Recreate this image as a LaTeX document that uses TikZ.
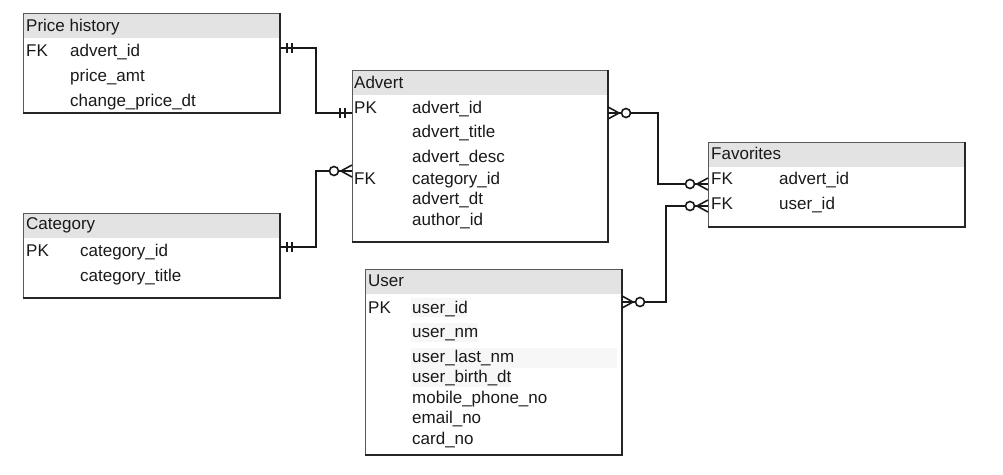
\documentclass[tikz,border=0pt]{standalone}
\usepackage{fontspec}
\setmainfont{Liberation Sans}
\begin{document}
\begin{tikzpicture}[x=1pt,y=-1pt,
    tbl/.style={draw=black!65,line width=0.8pt,inner sep=0pt,outer sep=0pt,anchor=north west},
    hdr/.style={fill=gray!22,inner sep=0pt,outer sep=0pt,anchor=north west,minimum height=25pt},
    txt/.style={font=\fontsize{17}{20}\selectfont,inner sep=0pt,anchor=base west,text=black!90},
    rel/.style={draw=black!90,line width=1.6pt},
    shade/.style={draw=black!85,line width=1.4pt},
    hl/.style={fill=gray!6},
    mandone/.pic={\draw[rel] (7,-5) -- (7,5) (12,-5) -- (12,5);},
    zeromany/.pic={\draw[rel] (0,-6) -- (11,0) -- (0,6);
                   \draw[rel,fill=white] (18,0) circle[radius=4.5pt];},
  ]
    \useasboundingbox (0,0) rectangle (1003,474);

    % Price history
    \node[hdr,minimum width=257pt] (ph-h) at (23,13) {};
    \node[tbl,minimum width=257pt,minimum height=100pt] (ph) at (23,13) {};
    \draw[shade] (ph.north east) -- (ph.south east) -- (ph.south west);
    \node[txt] (ph-t) at (26,31.7) {Price history};
    \node[txt] (ph-k) at (26,56.7) {FK};
    \foreach \t [count=\i] in {advert\_id,price\_amt,change\_price\_dt}
      \node[txt] (ph-\i) at (70,{31.7+25*\i}) {\t};

    % Advert
    \node[hdr,minimum width=256pt] (adv-h) at (352,70) {};
    \node[tbl,minimum width=256pt,minimum height=172pt] (adv) at (352,70) {};
    \draw[shade] (adv.north east) -- (adv.south east) -- (adv.south west);
    \node[txt] (adv-t) at (354,88.3) {Advert};
    \node[txt] (adv-pk) at (354,113.3) {PK};
    \node[txt] (adv-fk) at (354,184) {FK};
    \foreach \y/\t [count=\i] in {113.3/advert\_id,137.7/advert\_title,
        162.7/advert\_desc,184/category\_id,204/advert\_dt,225/author\_id}
      \node[txt] (adv-\i) at (412,\y) {\t};

    % Favorites
    \node[hdr,minimum width=257pt] (fav-h) at (708,142) {};
    \node[tbl,minimum width=257pt,minimum height=85pt] (fav) at (708,142) {};
    \draw[shade] (fav.north east) -- (fav.south east) -- (fav.south west);
    \node[txt] (fav-t) at (711,159.3) {Favorites};
    \node[txt] (fav-k1) at (711,184.3) {FK};
    \node[txt] (fav-k2) at (711,209) {FK};
    \node[txt] (fav-1) at (779,184.3) {advert\_id};
    \node[txt] (fav-2) at (779,209) {user\_id};

    % Category
    \node[hdr,minimum width=257pt] (cat-h) at (23,213) {};
    \node[tbl,minimum width=257pt,minimum height=85pt] (cat) at (23,213) {};
    \draw[shade] (cat.north east) -- (cat.south east) -- (cat.south west);
    \node[txt] (cat-t) at (26,229.3) {Category};
    \node[txt] (cat-pk) at (26,256) {PK};
    \node[txt] (cat-1) at (80,256) {category\_id};
    \node[txt] (cat-2) at (80,281) {category\_title};

    % User
    \node[hdr,minimum width=257pt] (usr-h) at (365,269) {};
    \node[tbl,minimum width=257pt,minimum height=186pt] (usr) at (365,269) {};
    \draw[shade] (usr.north east) -- (usr.south east) -- (usr.south west);
    \fill[hl] (411,298) rectangle (467,317);
    \fill[hl] (411,323) rectangle (478,342);
    \fill[hl] (411,348) rectangle (617,368);
    \fill[hl] (411,368) rectangle (511,387);
    \node[txt] (usr-t) at (368,286.7) {User};
    \node[txt] (usr-pk) at (368,313.3) {PK};
    \foreach \y/\t [count=\i] in {313.3/user\_id,337.7/user\_nm,362.7/user\_last\_nm,
        382.7/user\_birth\_dt,403.3/mobile\_phone\_no,423.3/email\_no,444/card\_no}
      \node[txt] (usr-\i) at (412,\y) {\t};

    % relations
    \coordinate (ph-r)   at (280,48);
    \coordinate (adv-l1) at (352,113);
    \coordinate (cat-r)  at (280,247);
    \coordinate (adv-l2) at (352,171);
    \coordinate (adv-r)  at (608,113);
    \coordinate (fav-l1) at (708,184);
    \coordinate (usr-r)  at (622,302);
    \coordinate (fav-l2) at (708,206);

    \draw[rel] (ph-r) -- ++(36,0) |- (adv-l1);
    \draw[rel] (cat-r) -- ++(36,0) |- (adv-l2);
    \draw[rel] (adv-r) -- ++(50,0) |- (fav-l1);
    \draw[rel] (usr-r) -- ++(44,0) |- (fav-l2);

    \pic at (ph-r) {mandone};
    \pic[rotate=180] at (adv-l1) {mandone};
    \pic at (cat-r) {mandone};
    \pic[rotate=180] at (adv-l2) {zeromany};
    \pic at (adv-r) {zeromany};
    \pic[rotate=180] at (fav-l1) {zeromany};
    \pic at (usr-r) {zeromany};
    \pic[rotate=180] at (fav-l2) {zeromany};
  \end{tikzpicture}
\end{document}
